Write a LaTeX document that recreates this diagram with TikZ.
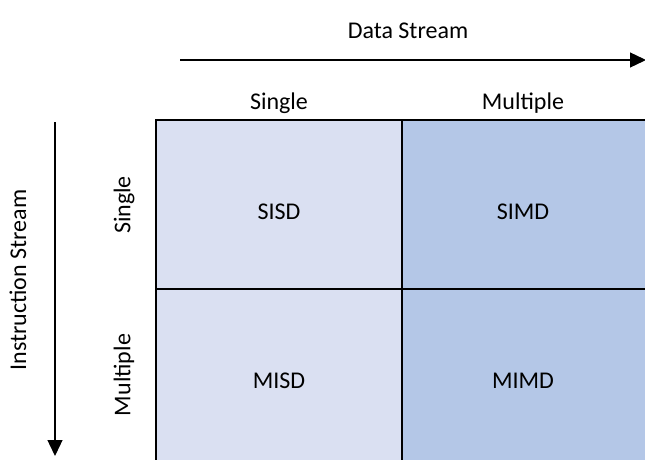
\documentclass[tikz,border=0pt]{standalone}
\usepackage{fontspec}
\setmainfont{Carlito}
\usetikzlibrary{arrows.meta}
\definecolor{cellLight}{HTML}{DAE0F2}
\definecolor{cellDark}{HTML}{B4C7E7}
\begin{document}
\begin{tikzpicture}[x=1pt,y=-1pt,
  lbl/.style={font=\fontsize{24}{28}\selectfont, inner sep=0pt},
  cellbox/.style={draw=black, line width=2.5pt},
  flow/.style={line width=1.3pt, -{Triangle[length=16pt,width=15pt]}}]
\useasboundingbox (0,0) rectangle (645,460);
\clip (0,0) rectangle (645,460);
% quadrants of the taxonomy
\fill[cellLight] (156,120) rectangle (402,470);
\fill[cellDark] (402,120) rectangle (660,470);
\draw[cellbox] (156,470) -- (156,120) -- (660,120);
\draw[cellbox] (402,120) -- (402,470);
\draw[cellbox] (156,289) -- (660,289);
% cell labels
\node[lbl] (sisd) at (279,212) {SISD};
\node[lbl] (simd) at (523,212) {SIMD};
\node[lbl] (misd) at (279,381) {MISD};
\node[lbl] (mimd) at (523,381) {MIMD};
% column headers
\node[lbl] (dstream) at (408,31) {Data Stream};
\node[lbl] (csingle) at (279,103) {Single};
\node[lbl] (cmulti) at (523,103) {Multiple};
% row headers
\node[lbl, rotate=90] (rsingle) at (124,205) {Single};
\node[lbl, rotate=90] (rmulti) at (124,375) {Multiple};
\node[lbl, rotate=90] (istream) at (18,280) {Instruction Stream};
% stream arrows
\coordinate (hs) at (180,60);
\coordinate (he) at (646,60);
\coordinate (vs) at (55,122);
\coordinate (ve) at (55,456);
\draw[flow] (hs) -- (he);
\draw[flow] (vs) -- (ve);
\end{tikzpicture}
\end{document}
